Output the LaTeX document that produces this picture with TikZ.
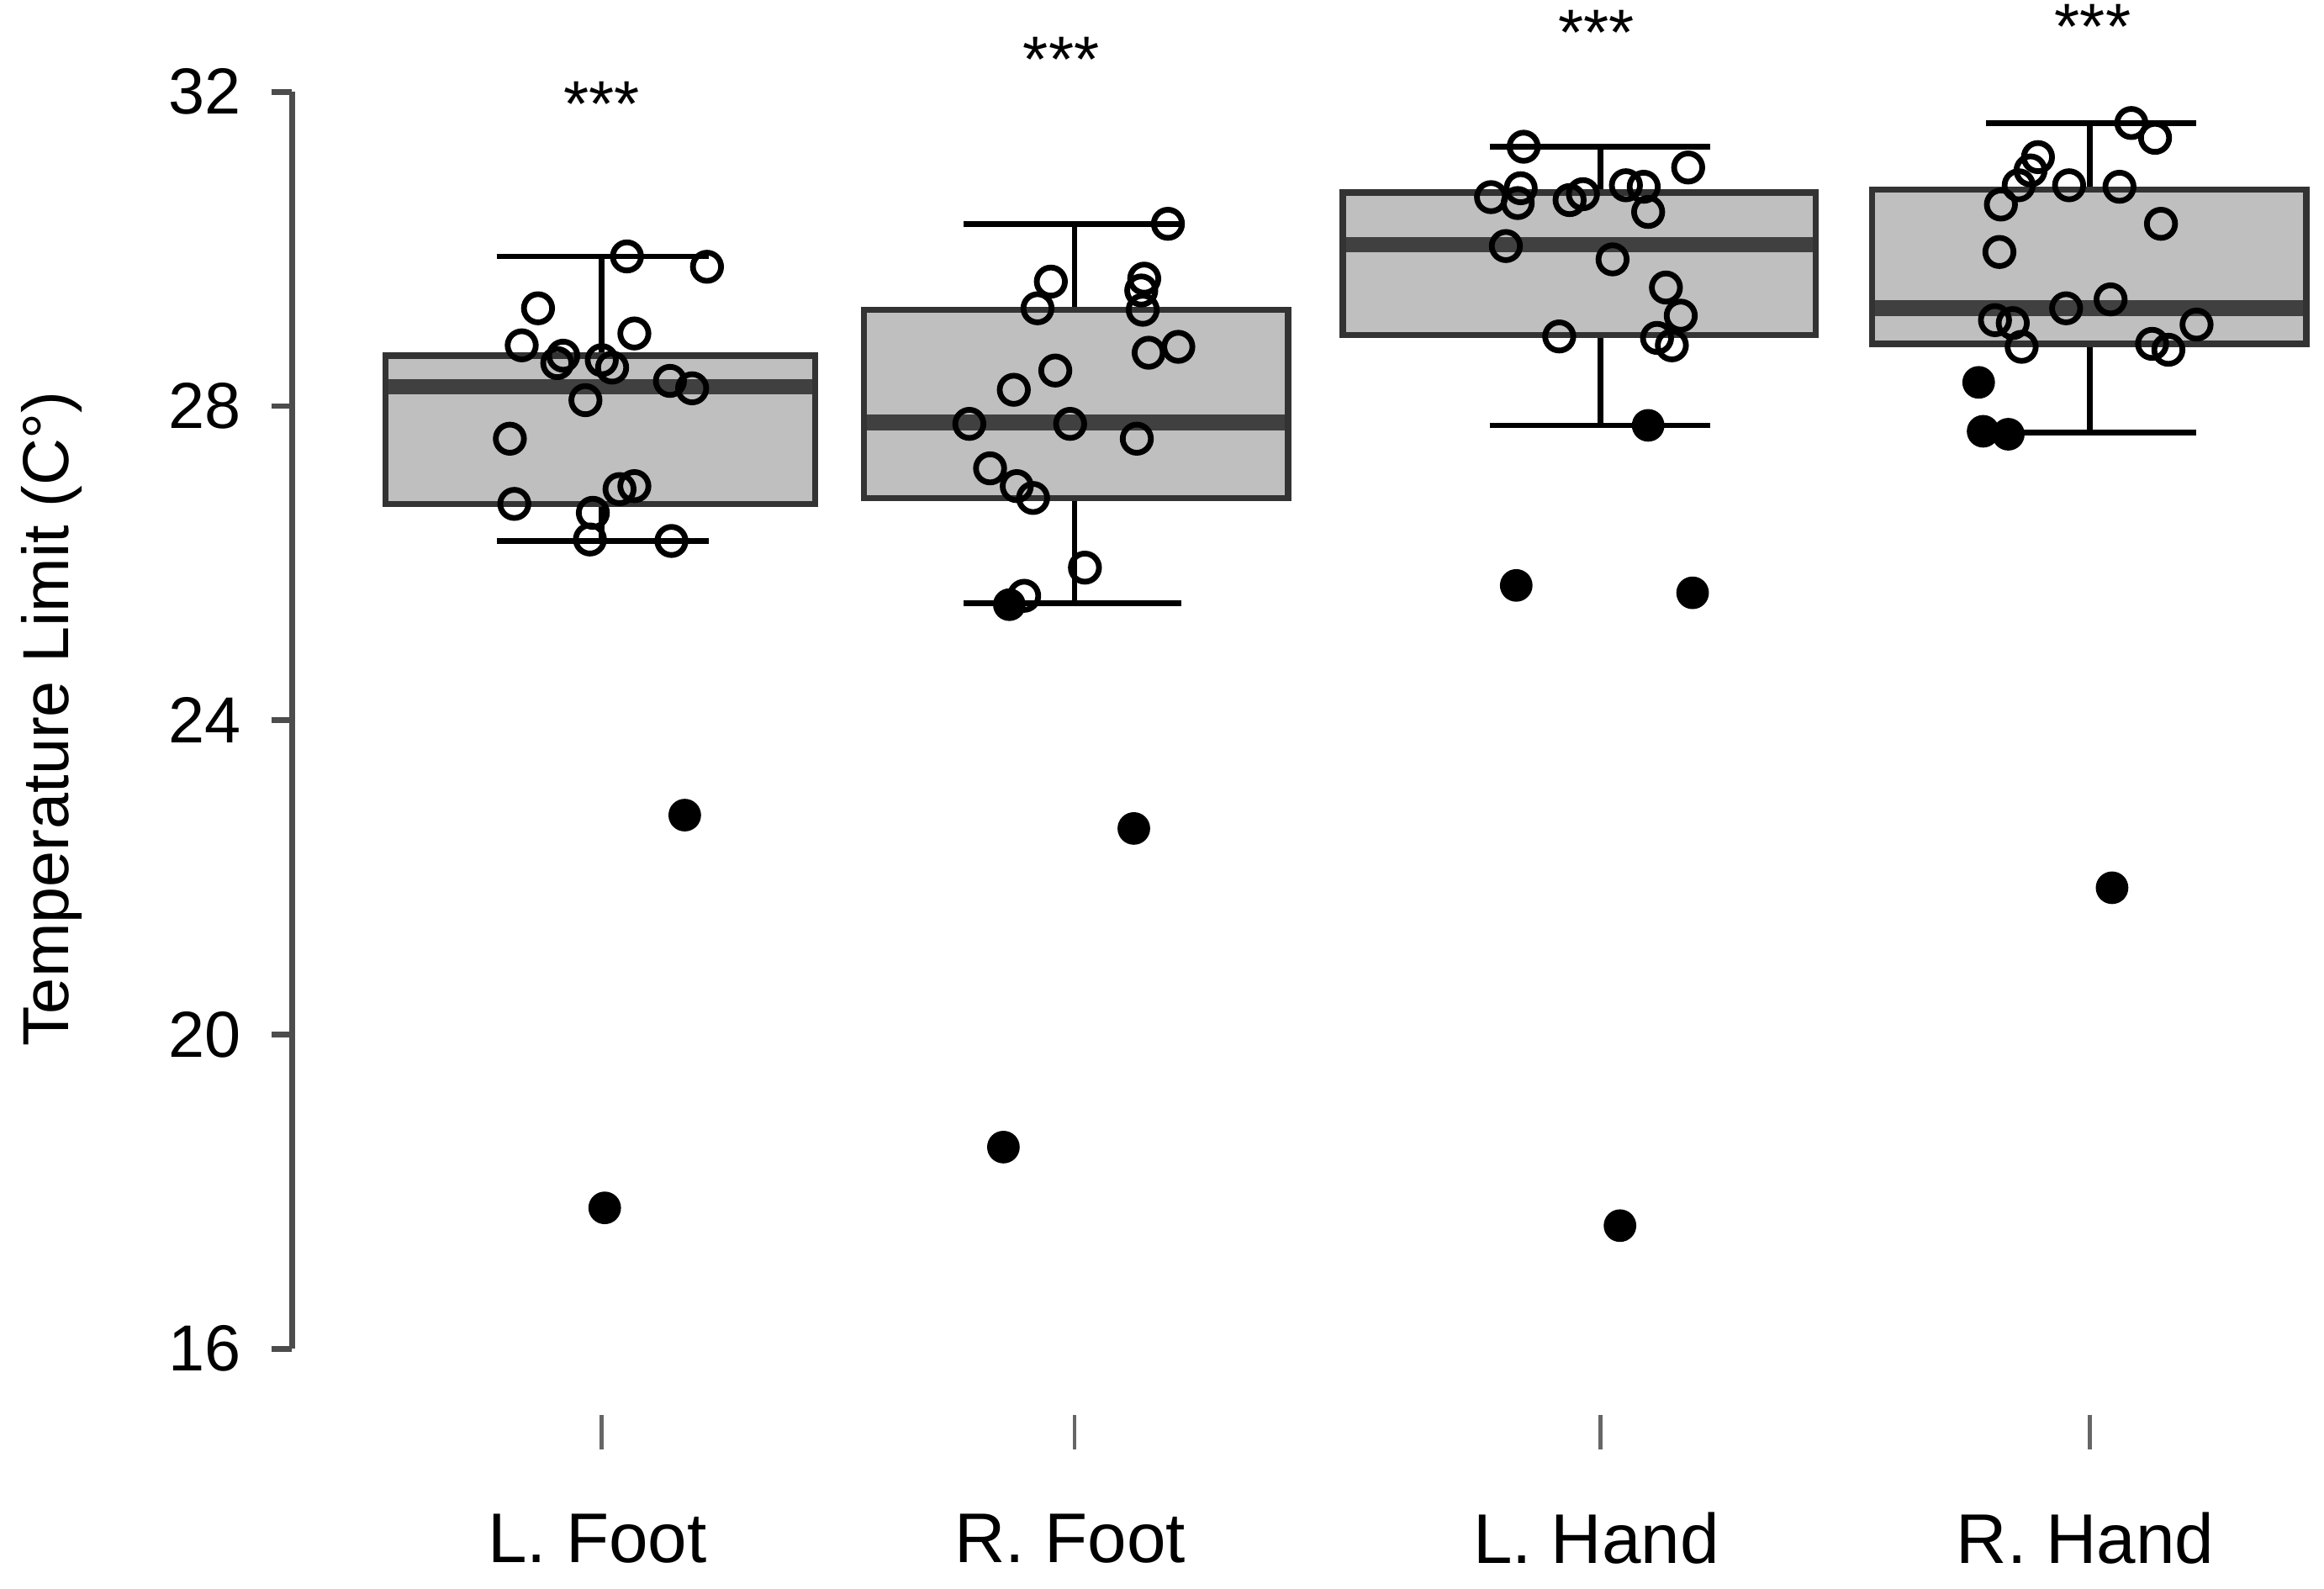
\documentclass[tikz,border=0pt]{standalone}
\usepackage{fontspec}
\setmainfont{Liberation Sans}
\begin{document}
\begin{tikzpicture}[x=0.1mm,y=-0.1mm,
  box/.style={fill=black!25,draw=black!80,line width=1.2pt},
  med/.style={draw=black!75,line width=3pt},
  wh/.style={draw=black,line width=1.1pt},
  op/.style={draw=black,line width=1.1pt,fill=none},
  cl/.style={fill=black},
  lab/.style={font=\fontsize{12.5}{14}\selectfont}]
\useasboundingbox (0,0) rectangle (1568,1072);
% axis
\draw[wh,black!70] (197,62) -- (197,910);
\foreach \y/\v in {62/32,274/28,486/24,698/20,910/16}{
  \draw[wh,black!70] (183,\y) -- (197,\y);
  \node[lab,anchor=east] (t\v) at (175,\y) {\v};}
\node[lab,rotate=90] (ylab) at (35,485) {Temperature Limit (C°)};
% boxes: x1 x2 q3 q1 med top bot center capL capR
\foreach \a/\b/\qt/\qb/\m/\wt/\wb/\c/\cl/\cr in {
 260/550/240/340/261/173/365/406/335/478,
 583/869/209/336/285/151/407/725/650/797,
 906/1225/130/226/165/99/287/1080/1005/1154,
 1263/1556/128/232/208/83/292/1410/1340/1482}{
  \draw[wh] (\c,\qt) -- (\c,\wt) (\cl,\wt) -- (\cr,\wt);
  \draw[wh] (\c,\qb) -- (\c,\wb) (\cl,\wb) -- (\cr,\wb);
  \draw[box] (\a,\qt) rectangle (\b,\qb);
  \draw[med] (\a+2,\m) -- (\b-2,\m);
  \draw[black!60,line width=0.8pt] (\c,955) -- (\c,978);}
\foreach \x/\y in {406/70,716/40,1077/22,1412/18}
  \node[lab] at (\x,\y) {***};
\foreach \x/\t in {403/L. Foot,722/R. Foot,1077/L. Hand,1407/R. Hand}
  \node[lab,font=\fontsize{13.5}{15}\selectfont] at (\x,1038) {\t};
% open points
\foreach \x/\y in {363/208,423/173,477/180,352/233,380/240,376/245,406/243,413/248,428/225,395/270,452/257,467/262,344/296,347/340,400/346,418/330,428/328,398/364,453/365,
788/151,709/190,772/188,770/196,700/208,771/209,712/250,684/263,795/234,775/238,654/286,722/286,767/296,668/316,686/328,697/336,732/383,691/402,
1028/99,1139/113,1006/133,1026/127,1024/137,1059/135,1068/131,1097/125,1109/126,1112/143,1016/166,1088/175,1124/194,1134/213,1118/228,1128/233,1052/227,
1438/83,1454/93,1375/106,1370/115,1362/125,1350/138,1396/125,1430/126,1458/151,1349/170,1394/208,1424/202,1346/216,1358/218,1482/219,1452/232,1463/236,1364/234}
  \draw[op] (\x,\y) circle (9.5);
% filled points
\foreach \x/\y in {462/550,408/815,681/408,765/559,677/774,1112/287,1023/395,1142/400,1093/827,1335/258,1338/291,1355/293,1425/599}
  \fill[cl] (\x,\y) circle (11);
\end{tikzpicture}
\end{document}
